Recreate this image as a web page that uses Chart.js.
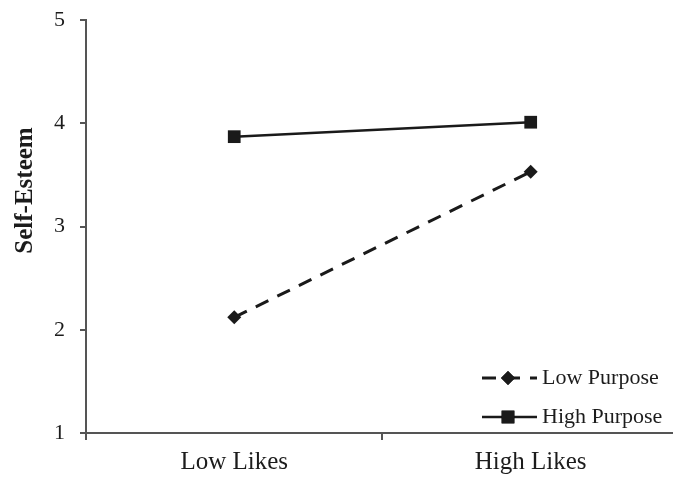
<!DOCTYPE html>
<html>
<head>
<meta charset="utf-8">
<script src="https://cdn.jsdelivr.net/npm/chart.js@4/dist/chart.umd.min.js"></script>
<style>
  html, body { margin: 0; padding: 0; background: #fff; overflow: hidden; }
  #wrap { width: 673px; height: 480px; }
</style>
</head>
<body>
<div id="wrap"><canvas id="c" width="673" height="480"></canvas></div>
<script>
// ---- data ----
const categories = ['Low Likes', 'High Likes'];
const seriesNames = ['Low Purpose', 'High Purpose'];
const lowPurpose = [2.12, 3.53];
const highPurpose = [3.87, 4.01];
const yTicks = [1, 2, 3, 4, 5];
const yTitle = 'Self-Esteem';

const FONT = "'Liberation Serif', 'Times New Roman', serif";
const INK = '#1c1c1c';
const AXIS = '#555555';

const toPoints = arr => arr.map((v, i) => ({ x: i, y: v }));

// y-axis title drawn rotated (positioned like the reference, above centre)
const yTitlePlugin = {
  id: 'yTitle',
  afterDraw(chart) {
    const { ctx, chartArea } = chart;
    ctx.save();
    ctx.font = 'bold 25px ' + FONT;
    ctx.fillStyle = INK;
    ctx.textAlign = 'center';
    ctx.textBaseline = 'alphabetic';
    ctx.translate(32, (chartArea.top + chartArea.bottom) / 2 - 36);
    ctx.rotate(-Math.PI / 2);
    ctx.fillText(yTitle, 0, 0);
    ctx.restore();
  }
};

// legend drawn inside plot area (bottom-right)
const innerLegend = {
  id: 'innerLegend',
  afterDraw(chart) {
    const { ctx, chartArea } = chart;
    const x0 = chartArea.right - 191;
    const rows = [chartArea.bottom - 55, chartArea.bottom - 16];
    chart.data.datasets.forEach((ds, i) => {
      const y = rows[i];
      ctx.save();
      ctx.strokeStyle = ds.borderColor;
      ctx.lineWidth = ds.borderWidth;
      ctx.setLineDash(ds.borderDash || []);
      ctx.beginPath();
      ctx.moveTo(x0, y);
      ctx.lineTo(x0 + 55, y);
      ctx.stroke();
      ctx.setLineDash([]);
      Chart.helpers.drawPoint(ctx, {
        pointStyle: ds.pointStyle,
        radius: ds.pointRadius,
        borderWidth: 0
      }, x0 + 26, y);
      ctx.fillStyle = ds.pointBackgroundColor;
      ctx.fill();
      ctx.font = '22px ' + FONT;
      ctx.fillStyle = INK;
      ctx.textAlign = 'left';
      ctx.textBaseline = 'alphabetic';
      ctx.fillText(ds.label, x0 + 60, y + 6);
      ctx.restore();
    });
  }
};

new Chart(document.getElementById('c'), {
  type: 'line',
  data: {
    datasets: [
      {
        label: seriesNames[0],
        data: toPoints(lowPurpose),
        borderColor: '#1a1a1a',
        borderWidth: 3,
        borderDash: [14, 10],
        pointStyle: 'rectRot',
        pointRadius: 7,
        pointBorderWidth: 0,
        pointBackgroundColor: '#1a1a1a',
        fill: false,
        tension: 0
      },
      {
        label: seriesNames[1],
        data: toPoints(highPurpose),
        borderColor: '#1a1a1a',
        borderWidth: 2.5,
        pointStyle: 'rect',
        pointRadius: 9,
        pointBorderWidth: 0,
        pointBackgroundColor: '#1a1a1a',
        fill: false,
        tension: 0
      }
    ]
  },
  options: {
    responsive: false,
    animation: false,
    layout: { autoPadding: false, padding: { top: 20, right: 0, bottom: 0, left: 0 } },
    plugins: {
      legend: { display: false },
      tooltip: { enabled: false },
      title: { display: false }
    },
    scales: {
      x: {
        type: 'linear',
        min: -0.5,
        max: 1.48,
        afterBuildTicks(scale) {
          scale.ticks = categories.map((_, i) => ({ value: i }));
        },
        afterFit(scale) { scale.height = 47; },
        ticks: {
          callback: (v) => categories[v],
          font: { family: FONT, size: 25 },
          color: INK,
          padding: 7,
          maxRotation: 0,
          autoSkip: false
        },
        grid: {
          display: true,
          offset: true,
          drawOnChartArea: false,
          drawTicks: true,
          tickLength: 7,
          color: AXIS,
          lineWidth: 2
        },
        border: { display: true, color: AXIS, width: 2 }
      },
      y: {
        min: 1,
        max: 5,
        afterBuildTicks(scale) {
          scale.ticks = yTicks.map(v => ({ value: v }));
        },
        afterFit(scale) {
          scale.width = 86;
          scale.paddingTop = 0;
          scale.paddingBottom = 0;
        },
        ticks: {
          font: { family: FONT, size: 22 },
          color: INK,
          padding: 15
        },
        grid: {
          display: true,
          drawOnChartArea: false,
          drawTicks: true,
          tickLength: 6,
          color: AXIS,
          lineWidth: 2
        },
        border: { display: true, color: AXIS, width: 2 }
      }
    }
  },
  plugins: [yTitlePlugin, innerLegend]
});
</script>
</body>
</html>
